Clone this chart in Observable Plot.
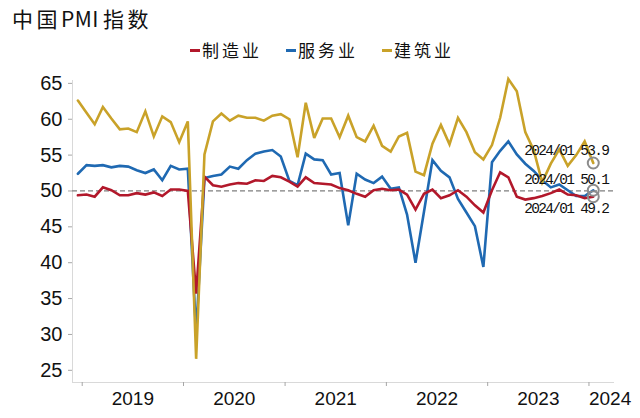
<!DOCTYPE html>
<html><head><meta charset="utf-8">
<script src="https://cdn.jsdelivr.net/npm/d3@7"></script>
<script src="https://cdn.jsdelivr.net/npm/@observablehq/plot@0.6"></script>
<style>
body{margin:0;background:#fff;}
#wrap{position:relative;width:640px;height:418px;overflow:hidden;font-family:"Noto Sans CJK SC",sans-serif;color:#111;}
#title{position:absolute;left:12px;top:4px;font-size:21px;letter-spacing:3.5px;line-height:28px;white-space:nowrap;}
#title .lat{letter-spacing:0.5px;margin-right:4px;}
#legend{position:absolute;left:190px;top:39px;display:flex;font-size:17px;line-height:22px;}
.item{display:flex;align-items:center;width:96px;}
.sw{width:10px;height:3px;margin-right:2px;}
.lab{letter-spacing:3px;white-space:nowrap;}
#ylab{position:absolute;left:7px;top:216px;width:16px;height:20px;line-height:20px;text-align:center;font-size:16px;transform:rotate(-90deg);font-family:"Liberation Sans",Arial,sans-serif;}
#chart{position:absolute;left:0;top:60px;}
</style></head><body>
<div id="wrap">
  <div id="title">中国<span class="lat">PMI</span>指数</div>
  <div id="legend"></div>
  <div id="ylab">%</div>
  <div id="chart"></div>
</div>
<script>
// ---- data (monthly, 2018-12 .. 2024-01) ----
const firstMonth = "2018-12";
const lastMonth = "2024-01";
const yearLabels = ["2019", "2020", "2021", "2022", "2023", "2024"];
const yTickValues = [25, 30, 35, 40, 45, 50, 55, 60, 65];
const seriesNames = ["制造业", "服务业", "建筑业"];
const seriesColors = ["#B2182B", "#1F69B2", "#C9A229"];
const manufacturing = [
  49.4,
  49.5, 49.2, 50.5, 50.1, 49.4, 49.4, 49.7, 49.5, 49.8, 49.3, 50.2, 50.2,
  50.0, 35.7, 52.0, 50.8, 50.6, 50.9, 51.1, 51.0, 51.5, 51.4, 52.1, 51.9,
  51.3, 50.6, 51.9, 51.1, 51.0, 50.9, 50.4, 50.1, 49.6, 49.2, 50.1, 50.3,
  50.1, 50.2, 49.5, 47.4, 49.6, 50.2, 49.0, 49.4, 50.1, 49.2, 48.0, 47.0,
  50.1, 52.6, 51.9, 49.2, 48.8, 49.0, 49.3, 49.7, 50.2, 49.5, 49.4, 49.0,
  49.2
];
const services = [
  52.4,
  53.6, 53.5, 53.6, 53.3, 53.5, 53.4, 52.9, 52.5, 53.0, 51.5, 53.5, 53.0,
  53.1, 30.1, 51.8, 52.1, 52.3, 53.4, 53.1, 54.3, 55.2, 55.5, 55.7, 54.8,
  51.4, 50.8, 55.2, 54.4, 54.3, 52.3, 52.5, 45.2, 52.4, 51.6, 51.1, 52.0,
  50.3, 50.5, 46.7, 40.0, 47.1, 54.3, 52.8, 51.9, 48.9, 47.0, 45.1, 39.4,
  54.0, 55.6, 56.9, 55.1, 53.8, 52.8, 51.5, 50.5, 50.9, 50.1, 49.3, 49.3,
  50.1
];
const construction = [
  62.6,
  60.9, 59.3, 61.7, 60.1, 58.6, 58.7, 58.2, 61.1, 57.6, 60.4, 59.6, 56.8,
  59.7, 26.6, 55.1, 59.7, 60.8, 59.8, 60.5, 60.2, 60.2, 59.8, 60.5, 60.7,
  60.0, 54.7, 62.3, 57.4, 60.1, 60.1, 57.5, 60.5, 57.5, 56.9, 59.1, 56.3,
  55.5, 57.6, 58.1, 52.7, 52.2, 56.6, 59.2, 56.5, 60.2, 58.2, 55.4, 54.4,
  56.4, 60.2, 65.6, 63.9, 58.2, 55.7, 51.2, 53.8, 55.8, 53.5, 55.0, 56.9,
  53.9
];

// ---- build tables ----
const parseMonth = d3.utcParse("%Y-%m");
const m0 = parseMonth(firstMonth), m1 = parseMonth(lastMonth);
const months = d3.utcMonth.range(m0, d3.utcMonth.offset(m1, 1));
const midOf = m => new Date((+m + +d3.utcMonth.offset(m, 1)) / 2);
const valuesBy = {"制造业": manufacturing, "服务业": services, "建筑业": construction};
const colorBy = Object.fromEntries(seriesNames.map((s, i) => [s, seriesColors[i]]));
const rowsOf = s => valuesBy[s].map((v, i) => ({date: midOf(months[i]), value: v, series: s}));
const lastOf = s => { const r = rowsOf(s); const p = r[r.length - 1];
  return {...p, label: d3.utcFormat("%Y/%m")(m1) + " " + p.value.toFixed(1)}; };

const xDomain = [new Date(Date.UTC(2018, 10, 27)), new Date(Date.UTC(2024, 3, 2))];
const yDomain = [23.3, 65.4];
const yearStarts = yearLabels.map(y => d3.utcParse("%Y")(y));
const midYears = yearStarts.slice(0, -1).map(d => new Date((+d + +d3.utcYear.offset(d, 1)) / 2));
const lastYearStart = yearStarts.slice(-1);
const fmtYear = d3.utcFormat("%Y");

// legend
const legend = document.getElementById("legend");
seriesNames.forEach((s, i) => {
  const it = document.createElement("div"); it.className = "item";
  it.innerHTML = `<span class="sw" style="background:${seriesColors[i]}"></span><span class="lab">${s}</span>`;
  legend.appendChild(it);
});

const drawOrder = ["服务业", "制造业", "建筑业"];
const annDy = {"建筑业": -13, "服务业": -11, "制造业": 12};

const chart = Plot.plot({
  width: 640, height: 358,
  marginLeft: 72, marginRight: 26, marginTop: 20, marginBottom: 36,
  x: {type: "utc", domain: xDomain},
  y: {domain: yDomain},
  style: {fontFamily: "'Liberation Sans', Arial, sans-serif", color: "#111", background: "#fff", overflow: "visible"},
  marks: [
    Plot.ruleX([xDomain[0]], {stroke: "#d9d9d9", strokeWidth: 1}),
    Plot.ruleY([yDomain[0]], {stroke: "#d9d9d9", strokeWidth: 1}),
    Plot.axisY({ticks: yTickValues, tickSize: 4, tickPadding: 6, fontSize: 20, stroke: "#a6a6a6", label: null}),
    Plot.axisX({ticks: yearStarts, tickSize: 4, tickFormat: () => "", stroke: "#a6a6a6", label: null}),
    Plot.axisX({ticks: midYears, tickSize: 0, tickPadding: 9, tickFormat: fmtYear, fontSize: 19, label: null}),
    Plot.axisX({ticks: lastYearStart, tickSize: 0, tickPadding: 9, tickFormat: fmtYear, textAnchor: "start", fontSize: 19, label: null}),
    Plot.ruleY([50], {stroke: "#7f7f7f", strokeDasharray: "5,3", strokeWidth: 1.3}),
    ...drawOrder.map(s => Plot.line(rowsOf(s), {x: "date", y: "value", stroke: colorBy[s], strokeWidth: 2.6, strokeLinejoin: "miter", strokeMiterlimit: 3})),
    Plot.dot(seriesNames.map(lastOf), {x: "date", y: "value", r: 5.5, stroke: "#8c8c8c", strokeWidth: 2, fill: "none"}),
    ...seriesNames.map(s => Plot.text([lastOf(s)], {x: "date", y: "value", text: "label", textAnchor: "end", dx: 15, dy: annDy[s], fontSize: 14.5, fontFamily: "'Liberation Mono', monospace", fill: "#111"}))
  ]
});
chart.querySelectorAll("g[aria-label='text'] text").forEach(t => t.setAttribute("letter-spacing", "-1.7"));
document.getElementById("chart").appendChild(chart);
</script>
</body></html>
